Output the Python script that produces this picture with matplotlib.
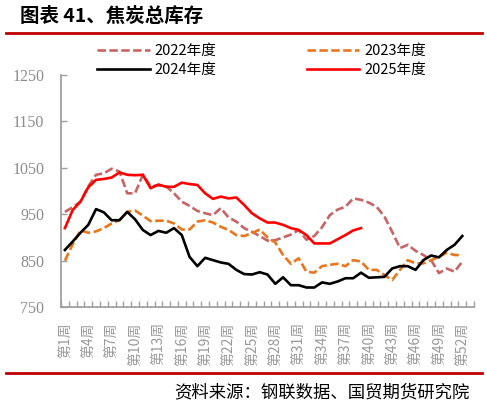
import matplotlib
matplotlib.use('Agg')
import matplotlib.pyplot as plt
from matplotlib.ticker import FixedLocator, NullFormatter

plt.rcParams['font.family'] = ['Noto Sans CJK SC', 'DejaVu Sans']

# weekly total coke inventory (10k t)
weeks = list(range(1, 54))
tick_weeks = list(range(1, 53, 3))
tick_labels = [f'第{w}周' for w in tick_weeks]

inv_2022 = [955, 965, 977, 1010, 1035, 1038, 1048, 1042, 995, 995,
            1035, 1010, 1012, 1010, 995, 977, 968, 957, 952, 948,
            963, 943, 934, 920, 912, 903, 893, 894, 900, 906,
            916, 895, 903, 922, 948, 960, 966, 984, 981, 975,
            966, 945, 912, 877, 884, 871, 862, 851, 823, 833,
            826, 848]
inv_2023 = [850, 885, 915, 910, 913, 920, 930, 937, 955, 958,
            947, 935, 936, 936, 930, 917, 917, 934, 937, 932,
            923, 916, 905, 903, 909, 917, 900, 889, 862, 843,
            855, 826, 824, 838, 841, 843, 838, 851, 848, 830,
            830, 819, 808, 830, 851, 844, 844, 851, 858, 867,
            862, 862]
inv_2024 = [873, 891, 910, 927, 961, 954, 937, 937, 955, 939,
            916, 905, 914, 910, 920, 905, 858, 838, 856, 851,
            846, 843, 830, 821, 820, 825, 820, 800, 814, 797,
            797, 792, 792, 803, 800, 805, 812, 812, 824, 813,
            814, 815, 833, 838, 838, 830, 851, 861, 857, 873,
            884, 903]
inv_2025 = [920, 959, 977, 1008, 1024, 1026, 1029, 1040, 1035, 1034,
            1035, 1006, 1014, 1009, 1009, 1018, 1015, 1013, 995, 983,
            988, 984, 986, 970, 952, 941, 932, 932, 927, 920,
            916, 905, 887, 887, 887, 896, 905, 915, 920]

W, H = 487, 407
fig = plt.figure(figsize=(W / 100, H / 100), dpi=100)
ax = fig.add_axes([61 / W, 1 - 307 / H, (474 - 61) / W, (307 - 75) / H])

dash = (3.2, 1.3)
l22, = ax.plot(weeks[:len(inv_2022)], inv_2022, color='#C86464', lw=1.9,
               dashes=dash, label='2022年度')
l23, = ax.plot(weeks[:len(inv_2023)], inv_2023, color='#E8761C', lw=1.9,
               dashes=dash, label='2023年度')
l24, = ax.plot(weeks[:len(inv_2024)], inv_2024, color='black', lw=1.9,
               label='2024年度')
l25, = ax.plot(weeks[:len(inv_2025)], inv_2025, color='#FF0000', lw=1.9,
               label='2025年度')

ax.set_xlim(0.5, 53.5)
ax.set_ylim(750, 1250)
ax.set_yticks(range(750, 1251, 100))

ax.xaxis.set_major_locator(FixedLocator(tick_weeks))
ax.set_xticklabels(tick_labels, rotation=90, va='top', ha='center',
                   color='#999999', fontsize=10)
ax.xaxis.set_minor_locator(FixedLocator([w + 0.5 for w in range(0, 54)]))
ax.xaxis.set_minor_formatter(NullFormatter())
ax.tick_params(axis='x', which='major', length=0, pad=11)
ax.tick_params(axis='x', which='minor', length=4, direction='in',
               color='#A0A0A0', width=1)
ax.tick_params(axis='y', length=4, direction='in', color='#A0A0A0',
               width=1, pad=12, labelcolor='#8C8C8C')
for lab in ax.get_yticklabels():
    lab.set_fontfamily('Liberation Serif')
    lab.set_fontsize(11.5)

for side in ['top', 'right']:
    ax.spines[side].set_visible(False)
for side in ['left', 'bottom']:
    ax.spines[side].set_color('#A0A0A0')
    ax.spines[side].set_linewidth(1.3)

fig.legend([l22, l24, l23, l25], ['2022年度', '2024年度', '2023年度', '2025年度'],
           ncol=2, loc='upper left', bbox_to_anchor=(97 / W, 1 - 44 / H),
           frameon=False, fontsize=10.5, handlelength=3.6, handletextpad=0.35,
           columnspacing=6.2, labelspacing=0.35, borderpad=0, borderaxespad=0)

# header / footer
fig.text(20 / W, 1 - 16 / H, '图表 41、焦炭总库存', fontsize=14, fontweight='bold',
         ha='left', va='center')
fig.add_artist(plt.Line2D([6 / W, 482 / W], [1 - 33 / H, 1 - 33 / H],
                          color='#C00000', lw=2))
fig.add_artist(plt.Line2D([6 / W, 482 / W], [1 - 373 / H, 1 - 373 / H],
                          color='#C00000', lw=2))
fig.text(470 / W, 1 - 392 / H, '资料来源：钢联数据、国贸期货研究院', fontsize=12.5,
         ha='right', va='center')

fig.savefig('out.png', dpi=100)
